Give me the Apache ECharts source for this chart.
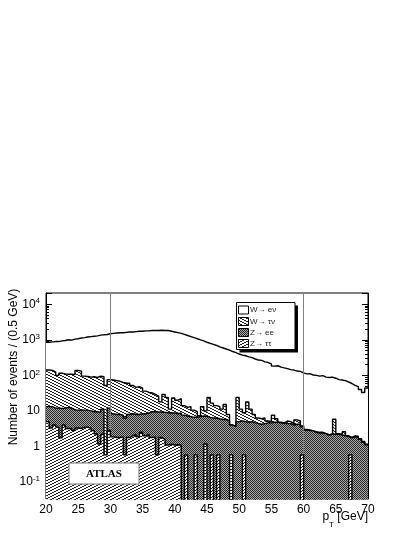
<!DOCTYPE html>
<html>
<head>
<meta charset="utf-8">
<title>p_T spectrum</title>
<script src="https://cdn.jsdelivr.net/npm/echarts@6/dist/echarts.min.js"></script>
<style>
  html, body { margin: 0; padding: 0; background: #fff; }
  #chart { width: 419px; height: 542px; }
</style>
</head>
<body>
<div id="chart"></div>
<script>
// 100 bins of 0.5 GeV between 20 and 70 GeV
const binLow = 20
const binWidth = 0.5

// top of each stacked layer, events / 0.5 GeV
const stackWenu = [
  851, 871, 891, 891, 933, 955, 1000, 977, 1047, 1072,
  1122, 1148, 1202, 1230, 1259, 1288, 1349, 1380, 1413, 1479,
  1514, 1549, 1585, 1585, 1622, 1660, 1660, 1698, 1738, 1738,
  1778, 1778, 1820, 1820, 1820, 1862, 1820, 1820, 1738, 1660,
  1585, 1514, 1413, 1318, 1230, 1148, 1072, 1000, 933, 851,
  794, 741, 692, 631, 589, 550, 513, 468, 437, 398,
  372, 355, 331, 316, 288, 269, 263, 240, 229, 209,
  182, 186, 170, 162, 155, 145, 141, 132, 129, 117,
  110, 112, 102, 100, 95, 98, 89, 87, 89, 83,
  76, 74, 71, 65, 59, 52, 48, 40, 33, 44
]
const stackWtaunu = [
  141, 138, 126, 100, 115, 110, 107, 107, 105, 138,
  132, 95, 93, 89, 91, 87, 95, 91, 52, 76,
  74, 71, 68, 63, 60, 60, 52, 46, 48, 44,
  36, 33, 32, 29, 26, 18, 29, 24, 11.2, 23,
  20, 22, 14.1, 12.6, 13.2, 10.5, 9.5, 7.3, 13.2, 10,
  24, 16.6, 14.1, 13.2, 11.2, 15.1, 7.9, 4.0, 3.7, 24,
  11.2, 8.9, 17.8, 11.2, 7.9, 6.3, 6.0, 6.3, 5.2, 5.0,
  7.6, 6.0, 4.8, 4.6, 5.2, 5.0, 4.4, 5.6, 5.2, 3.8,
  3.0, 2.9, 2.75, 2.6, 2.5, 2.5, 2.3, 2.1, 2.3, 5.8,
  2.3, 2.2, 2.6, 2.0, 1.8, 2.0, 1.9, 1.66, 1.38, 1.15
]
const stackZee = [
  13.2, 13.2, 12.0, 12.0, 11.7, 12.0, 12.6, 12.0, 10.7, 10.5,
  10.7, 10.5, 10.5, 10.0, 9.5, 9.5, 9.1, 11.2, 0.58, 12.0,
  8.3, 7.9, 7.9, 7.6, 6.3, 7.9, 8.3, 7.9, 7.9, 8.3,
  8.3, 8.7, 9.5, 9.5, 9.3, 9.3, 9.1, 8.9, 8.7, 8.7,
  8.3, 8.7, 7.6, 7.2, 6.9, 6.6, 6.6, 6.9, 7.2, 7.1,
  6.6, 6.3, 6.3, 6.0, 5.75, 5.75, 5.25, 4.0, 3.7, 5.0,
  5.25, 5.0, 4.8, 5.0, 4.6, 4.4, 4.2, 4.4, 4.6, 4.6,
  4.8, 4.8, 4.6, 4.5, 4.4, 4.4, 4.0, 4.2, 4.2, 3.6,
  2.9, 2.8, 2.75, 2.5, 2.4, 2.4, 2.3, 2.1, 2.2, 2.2,
  2.2, 2.1, 2.0, 1.9, 1.74, 1.86, 1.82, 1.58, 1.32, 1.12
]
const stackZtautau = [
  5.0, 3.3, 4.0, 3.5, 1.74, 4.0, 3.2, 3.2, 2.8, 3.3,
  3.2, 3.5, 3.5, 3.2, 2.8, 2.24, 1.17, 2.2, 0.58, 2.8,
  1.86, 1.78, 1.78, 1.86, 0.58, 1.78, 2.0, 2.2, 1.86, 2.5,
  2.0, 2.2, 1.78, 1.86, 0.58, 1.78, 1.58, 1.1, 1.15, 1.1,
  1.12, 1.1, 0, 0.58, 0, 0, 0.58, 0, 0, 1.17,
  0, 0.58, 0, 0.58, 0, 0, 0, 0.58, 0, 0,
  0, 0.58, 0, 0, 0, 0, 0, 0, 0, 0,
  0, 0, 0, 0, 0, 0, 0, 0, 0, 0.58,
  0, 0, 0, 0, 0, 0, 0, 0, 0, 0,
  0, 0, 0, 0, 0.58, 0, 0, 0, 0, 0
]

const legendNames = ['W\u2192 e\u03bd', 'W\u2192 \u03c4\u03bd', 'Z\u2192 ee', 'Z\u2192 \u03c4\u03c4']
const cutLines = [30, 60]

const yMin = 0.0333
const yMax = 20700
const floorValue = 0.001 // empty bins fall below the axis and get clipped
const fontName = 'Liberation Sans'

// ROOT style log minor ticks (2..9 in every decade), in log10 units for the tick axes
const minorTickExps = []
for (let e = -2; e <= 4; e++) {
  for (let m = 2; m <= 9; m++) {
    const v = m * Math.pow(10, e)
    if (v > yMin && v < yMax) minorTickExps.push(Math.log10(v))
  }
}

// small tiles for the ROOT-like fill styles
function makeTile (w, h, paint) {
  const c = document.createElement('canvas')
  c.width = w
  c.height = h
  const ctx = c.getContext('2d')
  paint(ctx)
  return { image: c, repeat: 'repeat' }
}
const hatchBack = makeTile(6, 3, ctx => {
  ctx.fillStyle = '#fff'; ctx.fillRect(0, 0, 6, 3)
  ctx.fillStyle = '#222'
  for (let x = 0; x < 6; x++) ctx.fillRect(x, Math.floor(x / 2), 1, 1)
})
const hatchFwd = makeTile(6, 3, ctx => {
  ctx.fillStyle = '#fff'; ctx.fillRect(0, 0, 6, 3)
  ctx.fillStyle = '#222'
  for (let x = 0; x < 6; x++) ctx.fillRect(x, 2 - Math.floor(x / 2), 1, 1)
})
const checker = makeTile(2, 2, ctx => {
  ctx.fillStyle = '#ababab'; ctx.fillRect(0, 0, 2, 2)
  ctx.fillStyle = '#262626'
  ctx.fillRect(0, 0, 1, 1); ctx.fillRect(1, 1, 1, 1)
})
const fills = ['#fff', hatchBack, checker, hatchFwd]

// histogram bins -> step points at the bin edges
function steps (tops) {
  const pts = tops.map((v, i) => [binLow + i * binWidth, Math.max(v, floorValue)])
  pts.push([binLow + tops.length * binWidth, Math.max(tops[tops.length - 1], floorValue)])
  return pts
}

function layer (name, tops, fill, z) {
  return {
    name: name,
    type: 'line',
    step: 'end',
    data: steps(tops),
    symbol: 'none',
    silent: true,
    z: z,
    lineStyle: { color: '#000', width: 1.4 },
    areaStyle: { color: fill, opacity: 1, origin: floorValue }
  }
}

function isDecade (v) {
  const e = Math.log10(v)
  return Math.abs(e - Math.round(e)) < 0.01
}

function yLabel (v) {
  if (!isDecade(v)) return ''
  const e = Math.round(Math.log10(v))
  if (e === 0) return '1'
  if (e === 1) return '10'
  return '{b|10}{s|' + e + '}'
}

const xAxisBase = {
  type: 'value',
  min: 20,
  max: 70,
  interval: 5,
  axisLine: { show: true, lineStyle: { color: '#000', width: 1 } },
  axisTick: { inside: true, length: 6, lineStyle: { color: '#000' } },
  minorTick: { show: true, splitNumber: 5, length: 3, lineStyle: { color: '#000' } },
  splitLine: { show: false }
}

const yAxisBase = {
  type: 'log',
  logBase: 10,
  min: yMin,
  max: yMax,
  axisLine: { show: true, lineStyle: { color: '#000', width: 1 } },
  axisTick: { inside: true, length: 6, lineStyle: { color: '#000' } },
  minorTick: { show: false },
  splitLine: { show: false }
}

// tick-only axes spanning the same range in log10 units, for the minor ticks
const minorAxisBase = {
  type: 'value',
  min: Math.log10(yMin),
  max: Math.log10(yMax),
  axisLine: { show: false },
  axisLabel: { show: false },
  splitLine: { show: false },
  axisTick: { show: true, inside: true, length: 3, customValues: minorTickExps, lineStyle: { color: '#000' } }
}

// legend drawn as a ROOT style box with a hard shadow
const legendBox = { x: 236.5, y: 302.5, w: 58.5, h: 47 }
const legendRows = [310, 321.5, 332.5, 343.5]
const legendGraphics = [
  { type: 'rect', shape: { x: legendBox.x + 3, y: legendBox.y + 3, width: legendBox.w, height: legendBox.h }, style: { fill: '#000' }, z: 50 },
  { type: 'rect', shape: { x: legendBox.x, y: legendBox.y, width: legendBox.w, height: legendBox.h }, style: { fill: '#fff', stroke: '#000', lineWidth: 1 }, z: 51 }
]
legendNames.forEach((name, i) => {
  legendGraphics.push({
    type: 'rect',
    shape: { x: 238.5, y: legendRows[i] - 4, width: 10, height: 8 },
    style: { fill: fills[i], stroke: '#000', lineWidth: 1 },
    z: 52
  })
  legendGraphics.push({
    type: 'text',
    x: 250,
    y: legendRows[i],
    style: { text: name, fontFamily: fontName, fontSize: 8, fill: '#222', verticalAlign: 'middle', align: 'left' },
    z: 52
  })
})

const chart = echarts.init(document.getElementById('chart'))
chart.setOption({
  animation: false,
  backgroundColor: '#fff',
  textStyle: { fontFamily: fontName, color: '#000' },
  grid: { left: 46, right: 51, top: 293, bottom: 43, show: true, borderColor: '#000', borderWidth: 1, backgroundColor: '#fff' },
  xAxis: [
    Object.assign({}, xAxisBase, {
      position: 'bottom',
      axisLabel: { show: true, margin: 5, fontSize: 12, color: '#000', fontFamily: fontName }
    }),
    Object.assign({}, xAxisBase, { position: 'top', axisLabel: { show: false } })
  ],
  yAxis: [
    Object.assign({}, yAxisBase, {
      position: 'left',
      axisLabel: {
        show: true,
        margin: 6,
        color: '#000',
        fontFamily: fontName,
        fontSize: 12,
        formatter: yLabel,
        rich: {
          b: { fontSize: 12, lineHeight: 14, fontFamily: fontName, color: '#000' },
          s: { fontSize: 8, lineHeight: 8, verticalAlign: 'top', fontFamily: fontName, color: '#000' }
        }
      }
    }),
    Object.assign({}, yAxisBase, { position: 'right', axisLabel: { show: false } }),
    Object.assign({}, minorAxisBase, { position: 'left' }),
    Object.assign({}, minorAxisBase, { position: 'right' })
  ],
  series: [
    layer(legendNames[0], stackWenu, fills[0], 2),
    layer(legendNames[1], stackWtaunu, fills[1], 3),
    layer(legendNames[2], stackZee, fills[2], 4),
    layer(legendNames[3], stackZtautau, fills[3], 5),
    {
      type: 'line',
      data: [],
      z: 10,
      silent: true,
      markLine: {
        symbol: 'none',
        silent: true,
        animation: false,
        label: { show: false },
        lineStyle: { color: '#808080', width: 1, type: 'solid' },
        data: cutLines.map(v => ({ xAxis: v }))
      }
    }
  ],
  graphic: [
    // ATLAS label
    { type: 'rect', shape: { x: 69, y: 463, width: 70, height: 21 }, style: { fill: '#fff', stroke: '#777', lineWidth: 1 }, z: 50 },
    { type: 'text', x: 104, y: 474.5, style: { text: 'ATLAS', fontFamily: 'Liberation Serif', fontWeight: 'bold', fontSize: 11, fill: '#000', align: 'center', verticalAlign: 'middle' }, z: 51 },
    // axis titles
    { type: 'text', x: 14, y: 367, rotation: Math.PI / 2, style: { text: 'Number of events / (0.5 GeV)', fontFamily: fontName, fontSize: 12, fill: '#000', align: 'center', verticalAlign: 'middle' }, z: 50 },
    {
      type: 'text',
      x: 368,
      y: 511,
      style: {
        text: '{a|p}{t|T}{a| [GeV]}',
        align: 'right',
        verticalAlign: 'top',
        rich: {
          a: { fontSize: 12, lineHeight: 18, verticalAlign: 'top', fontFamily: fontName, fill: '#000' },
          t: { fontSize: 8, lineHeight: 8, verticalAlign: 'bottom', fontFamily: fontName, fill: '#000' }
        }
      },
      z: 50
    }
  ].concat(legendGraphics)
})
</script>
</body>
</html>
